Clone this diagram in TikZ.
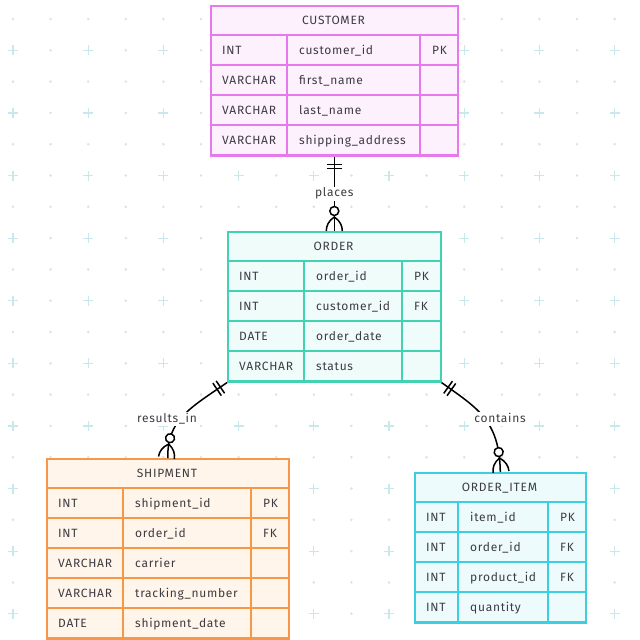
\documentclass[tikz,border=0pt]{standalone}
\usepackage{fontspec}
\setmainfont{Fira Sans}[LetterSpace=6]
\usepackage{tikz}
\usetikzlibrary{calc,positioning,decorations.markings}
\definecolor{custline}{RGB}{232,120,238}
\definecolor{custfill}{RGB}{253,241,253}
\definecolor{ordline}{RGB}{66,210,178}
\definecolor{ordfill}{RGB}{240,252,249}
\definecolor{shipline}{RGB}{246,152,72}
\definecolor{shipfill}{RGB}{255,245,235}
\definecolor{itemline}{RGB}{62,206,226}
\definecolor{itemfill}{RGB}{238,251,253}
\definecolor{txt}{RGB}{60,60,66}
\definecolor{gdot}{RGB}{215,228,232}
\definecolor{gplus}{RGB}{200,232,236}
\tikzset{
	tbl/.style={rectangle, draw, line width=1.6pt, inner sep=0pt, anchor=north west},
	cell/.style={anchor=base west, inner sep=0pt, text=txt, font=\fontsize{12}{14}\selectfont},
	head/.style={anchor=base, inner sep=0pt, text=txt, font=\fontsize{12}{14}\selectfont},
	lbl/.style={fill=white, inner sep=2pt, text height=8pt, text depth=2pt, text=txt, font=\fontsize{12}{14}\selectfont},
	rel/.style={draw=black, line width=1.5pt},
	oneonly/.style={postaction={decorate, decoration={markings,
		mark=at position 8pt with {\draw[line width=1.5pt] (0pt,-7.5pt) -- (0pt,7.5pt);},
		mark=at position 12pt with {\draw[line width=1.5pt] (0pt,-7.5pt) -- (0pt,7.5pt);}}}},
	zeromany/.style={postaction={decorate, decoration={markings,
		mark=at position -20pt with {\draw[line width=1.5pt, fill=white] (0pt,0pt) circle[radius=4.5pt];},
		mark=at position -14pt with {\draw[line width=1.5pt] (0pt,0pt) .. controls (4pt,6pt) and (9pt,8pt) .. (14pt,8pt)
			(0pt,0pt) .. controls (4pt,-6pt) and (9pt,-8pt) .. (14pt,-8pt);}}}}
}

\begin{document}
\begin{tikzpicture}[x=1pt, y=-1pt]
	\useasboundingbox[fill=white] (0,0) rectangle (640,640);
	% background grid
	\foreach \i in {0,...,16} \foreach \j in {0,2,...,18}
		\fill[gdot] ({13+37.6*\i},{19+31.3*\j}) circle[radius=1.4pt];
	\foreach \i in {1,3,...,15} \foreach \j in {1,3,...,19}
		\fill[gdot] ({13+37.6*\i},{19+31.3*\j}) circle[radius=1.4pt];
	\foreach \i in {0,2,...,16} \foreach \j in {1,3,...,19}
		\draw[gplus, line width=1.2pt] ({8+37.6*\i},{19+31.3*\j}) -- ++(10,0) ({13+37.6*\i},{14+31.3*\j}) -- ++(0,10);

	% customer
	\begin{scope}[shift={(210,5)}]
		\node[tbl, draw=custline, fill=custfill, minimum width=247pt, minimum height=150pt] (customer) at (0,0) {};
		\node[head] (cu-h) at (123.5,19) {CUSTOMER};
		\draw[custline, line width=1.6pt] (0,30) -- (247,30) (77,30) -- (77,150) (210,30) -- (210,150);
		\foreach \t/\n/\k [count=\i] in {INT/customer\_id/PK, VARCHAR/first\_name/{}, VARCHAR/last\_name/{}, VARCHAR/shipping\_address/{}} {
			\draw[custline, line width=1.6pt] (0,{30+30*\i}) -- (247,{30+30*\i});
			\node[cell] (cu-t\i) at (12,{19+30*\i}) {\t};
			\node[cell] (cu-n\i) at (89,{19+30*\i}) {\n};
			\node[cell] (cu-k\i) at (222,{19+30*\i}) {\k};
		}
	\end{scope}

	% order
	\begin{scope}[shift={(227,231)}]
		\node[tbl, draw=ordline, fill=ordfill, minimum width=213pt, minimum height=150pt] (order) at (0,0) {};
		\node[head] (or-h) at (106.5,19) {ORDER};
		\draw[ordline, line width=1.6pt] (0,30) -- (213,30) (77,30) -- (77,150) (175,30) -- (175,150);
		\foreach \t/\n/\k [count=\i] in {INT/order\_id/PK, INT/customer\_id/FK, DATE/order\_date/{}, VARCHAR/status/{}} {
			\draw[ordline, line width=1.6pt] (0,{30+30*\i}) -- (213,{30+30*\i});
			\node[cell] (or-t\i) at (12,{19+30*\i}) {\t};
			\node[cell] (or-n\i) at (89,{19+30*\i}) {\n};
			\node[cell] (or-k\i) at (187,{19+30*\i}) {\k};
		}
	\end{scope}

	% shipment
	\begin{scope}[shift={(46,458)}]
		\node[tbl, draw=shipline, fill=shipfill, minimum width=242pt, minimum height=180pt] (shipment) at (0,0) {};
		\node[head] (sh-h) at (121,19) {SHIPMENT};
		\draw[shipline, line width=1.6pt] (0,30) -- (242,30) (77,30) -- (77,180) (205,30) -- (205,180);
		\foreach \t/\n/\k [count=\i] in {INT/shipment\_id/PK, INT/order\_id/FK, VARCHAR/carrier/{}, VARCHAR/tracking\_number/{}, DATE/shipment\_date/{}} {
			\draw[shipline, line width=1.6pt] (0,{30+30*\i}) -- (242,{30+30*\i});
			\node[cell] (sh-t\i) at (12,{19+30*\i}) {\t};
			\node[cell] (sh-n\i) at (89,{19+30*\i}) {\n};
			\node[cell] (sh-k\i) at (217,{19+30*\i}) {\k};
		}
	\end{scope}

	% order_item
	\begin{scope}[shift={(414,472)}]
		\node[tbl, draw=itemline, fill=itemfill, minimum width=171pt, minimum height=150pt] (orderitem) at (0,0) {};
		\node[head] (oi-h) at (85.5,19) {ORDER\_ITEM};
		\draw[itemline, line width=1.6pt] (0,30) -- (171,30) (44,30) -- (44,150) (134,30) -- (134,150);
		\foreach \t/\n/\k [count=\i] in {INT/item\_id/PK, INT/order\_id/FK, INT/product\_id/FK, INT/quantity/{}} {
			\draw[itemline, line width=1.6pt] (0,{30+30*\i}) -- (171,{30+30*\i});
			\node[cell] (oi-t\i) at (12,{19+30*\i}) {\t};
			\node[cell] (oi-n\i) at (56,{19+30*\i}) {\n};
			\node[cell] (oi-k\i) at (146,{19+30*\i}) {\k};
		}
	\end{scope}

	% relations
	\path[rel, oneonly, zeromany] (customer.south) -- node[lbl] (places) {places} (order.north);
	\path[rel, oneonly, zeromany] (order.south west) .. controls (190,408) and (167,420) .. (shipment.north);
	\node[lbl] (resultsin) at (167,419) {results\_in};
	\path[rel, oneonly, zeromany] (order.south east) .. controls (477,408) and (499.5,420) .. (orderitem.north);
	\node[lbl] (contains) at (500,419) {contains};
\end{tikzpicture}
\end{document}
